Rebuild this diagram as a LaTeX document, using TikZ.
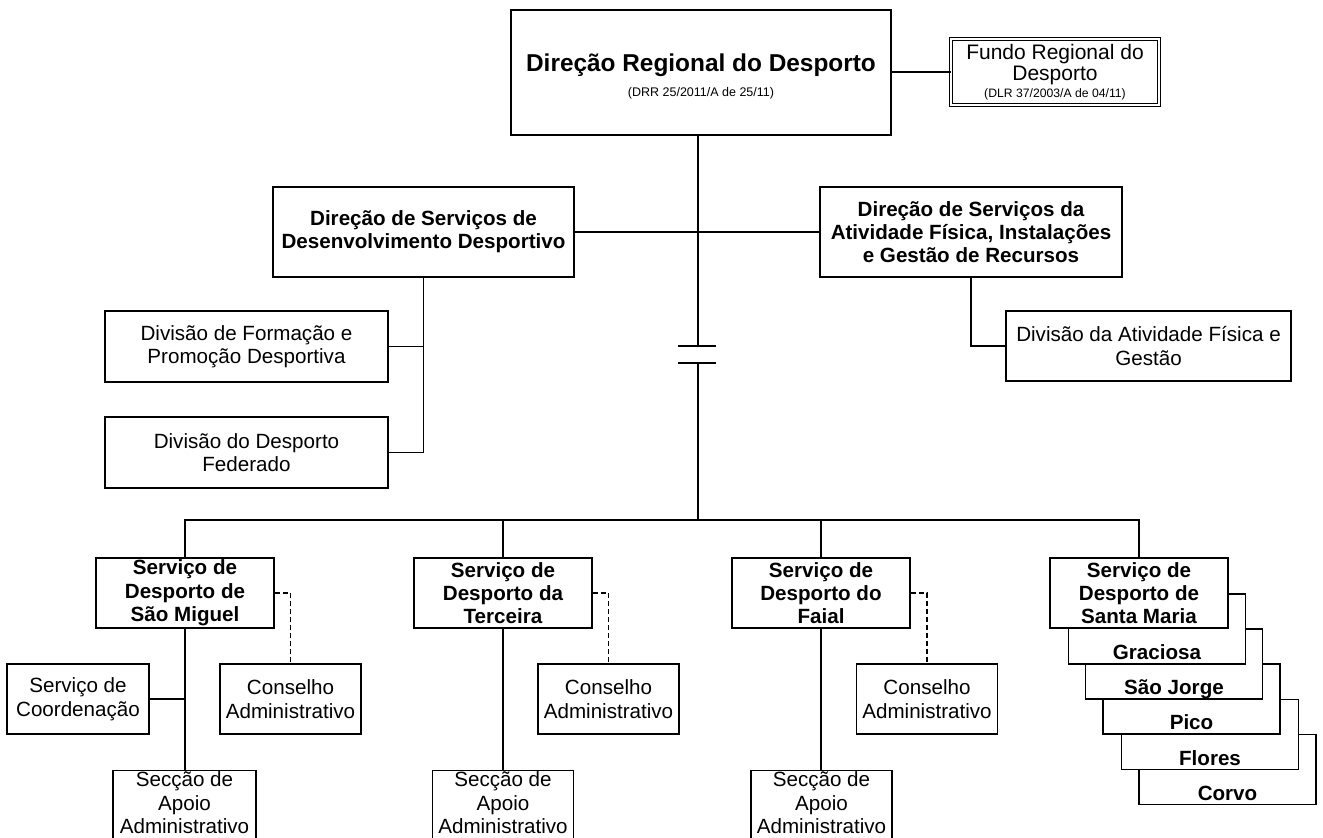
\documentclass[tikz,border=0pt]{standalone}
\usepackage{fontspec}
\setmainfont{Liberation Sans}

\begin{document}
\begin{tikzpicture}[x=1pt,y=-1pt,line width=1.2pt,
  unit/.style={draw,fill=white,align=center,inner sep=0pt,font=\fontsize{20.6}{23.5}\selectfont},
  bunit/.style={unit,font=\fontsize{20.6}{23.3}\selectfont\bfseries},
  service/.style={bunit,minimum width=178,minimum height=70},
  council/.style={unit,minimum width=141,minimum height=70},
  section/.style={unit,minimum width=141,anchor=north,inner ysep=1pt},
  island/.style={draw,fill=white,minimum width=177,minimum height=70},
  isle/.style={anchor=base,font=\fontsize{20.6}{23.3}\selectfont\bfseries},
  advisory/.style={dash pattern=on 5pt off 3pt}]
\fill[white] (0,0) rectangle (1323,838);
\useasboundingbox (0,0) rectangle (1323,838);

\node[unit,minimum width=380,minimum height=125] (drd) at (701,72.5)
  {{\fontsize{24.4}{28}\selectfont\bfseries\rule{0pt}{26pt}Direção Regional do Desporto}\\[2pt]{\fontsize{12.5}{14}\selectfont (DRR 25/2011/A de 25/11)}};
\node[unit,double,double distance=2pt,line width=1pt,minimum width=208,minimum height=66,font=\fontsize{21}{21.5}\selectfont] (fundo) at (1055,72)
  {Fundo Regional do\\Desporto\\[-5pt]{\fontsize{12.2}{14}\selectfont (DLR 37/2003/A de 04/11)}};

\node[bunit,minimum width=301,minimum height=90] (dsdd) at (423.5,232) {Direção de Serviços de\\Desenvolvimento Desportivo};
\node[bunit,minimum width=302,minimum height=90] (dsaf) at (971,232) {Direção de Serviços da\\Atividade Física, Instalações\\e Gestão de Recursos};
\node[unit,minimum width=283,minimum height=71] (dfpd) at (246.5,346.5) {Divisão de Formação e\\Promoção Desportiva};
\node[unit,minimum width=283,minimum height=71] (ddf) at (246.5,452.5) {Divisão do Desporto\\Federado};
\node[unit,minimum width=285,minimum height=70] (dafg) at (1148.5,346) {Divisão da Atividade Física e\\Gestão};

\node[service] (ssm) at (185,593) {Serviço de\\Desporto de\\São Miguel};
\node[service] (ster) at (503,593) {Serviço de\\Desporto da\\Terceira};
\node[service] (sfai) at (821,593) {Serviço de\\Desporto do\\Faial};
\node[council,minimum width=142] (scoord) at (78,699) {Serviço de\\Coordenação};
\node[council] (csm) at (290.5,699) {Conselho\\Administrativo};
\node[council] (cter) at (608.5,699) {Conselho\\Administrativo};
\node[council] (cfai) at (927,699) {Conselho\\Administrativo};
\node[section,minimum width=143] (secsm) at (184.5,770) {Secção de\\Apoio\\Administrativo\rule[-14pt]{0pt}{14pt}};
\node[section] (secter) at (503,770) {Secção de\\Apoio\\Administrativo\rule[-14pt]{0pt}{14pt}};
\node[section] (secfai) at (821.5,770) {Secção de\\Apoio\\Administrativo\rule[-14pt]{0pt}{14pt}};

\node[island] (cor) at (1227.5,769.5) {};
\node[isle] (corT) at ([yshift=5pt]cor.south) {Corvo};
\node[island] (flo) at (1210,734.5) {};
\node[isle] (floT) at ([yshift=5pt]flo.south) {Flores};
\node[island] (pico) at (1191.5,699) {};
\node[isle] (picoT) at ([yshift=5pt]pico.south) {Pico};
\node[island] (sjo) at (1174,664) {};
\node[isle] (sjoT) at ([yshift=5pt]sjo.south) {São Jorge};
\node[island] (gra) at (1157,629) {};
\node[isle] (graT) at ([yshift=5pt]gra.south) {Graciosa};
\node[service] (ssma) at (1139,593) {Serviço de\\Desporto de\\Santa Maria};

\coordinate (brkT) at (698,346);
\coordinate (brkB) at (698,363);
\coordinate (busL) at (185,520);
\draw (drd.south -| brkT) -- (brkT);
\draw ([xshift=-20pt]brkT) -- ([xshift=18pt]brkT);
\draw ([xshift=-20pt]brkB) -- ([xshift=18pt]brkB);
\draw (brkB) -- (brkB |- busL);
\draw (fundo.west) -- (fundo.west -| drd.east);
\draw (dsdd.east) -- (dsaf.west);
\draw (dsdd.south) -- (dsdd.south |- ddf.east) -- (ddf.east);
\draw (dfpd.east) -- (dfpd.east -| dsdd.south);
\draw (dsaf.south) -- (dsaf.south |- dafg.west) -- (dafg.west);
\draw (ssm.north) -- (busL) -- (busL -| ssma.north) -- (ssma.north);
\draw (busL -| ster.north) -- (ster.north);
\draw (busL -| sfai.north) -- (sfai.north);
\foreach \svc/\cons/\sect in {ssm/csm/secsm,ster/cter/secter,sfai/cfai/secfai}{
  \draw (\svc.south) -- (\svc.south |- \sect.north);
  \draw[advisory] (\svc.east) -- (\svc.east -| \cons.north) -- (\cons.north);
}
\draw (scoord.east) -- (scoord.east -| ssm.south);
\end{tikzpicture}
\end{document}
